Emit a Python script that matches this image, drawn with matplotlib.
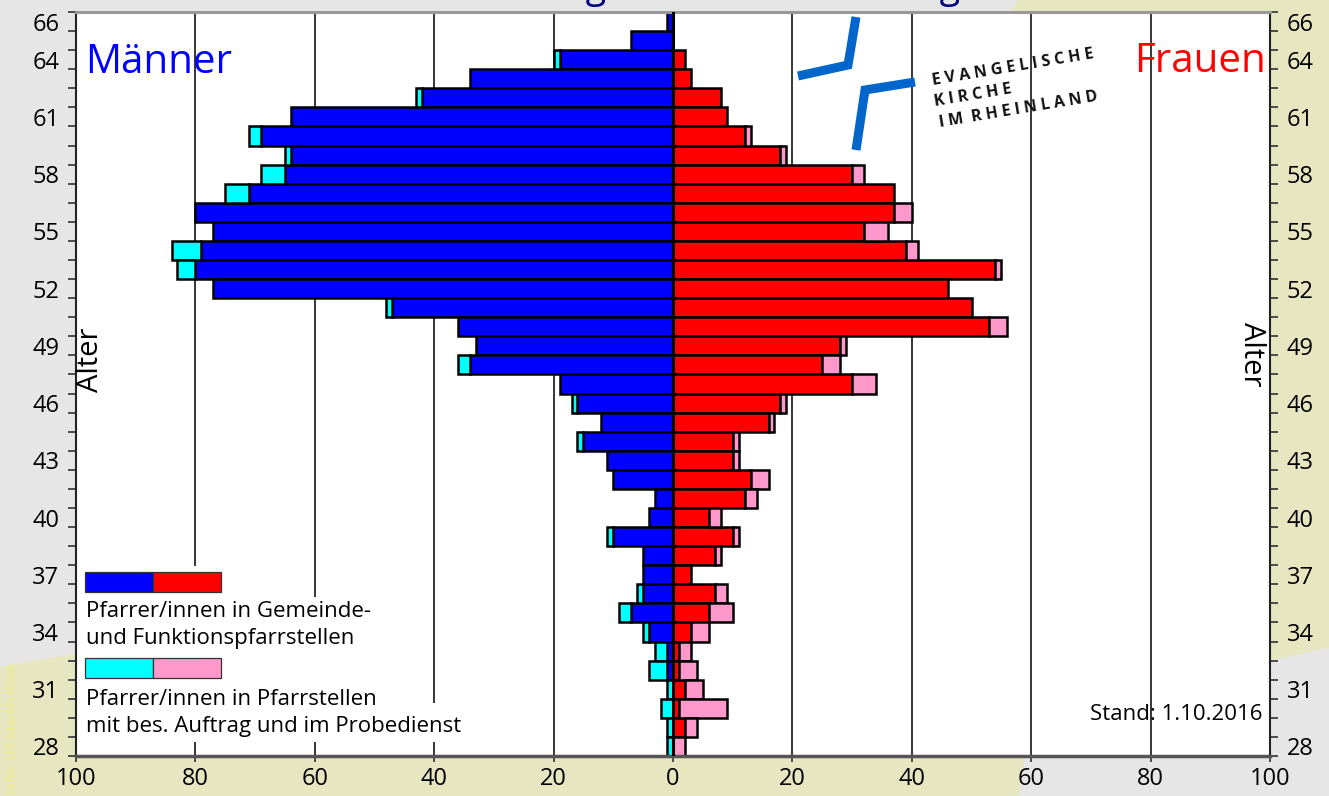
import matplotlib
matplotlib.use('Agg')
import matplotlib.pyplot as plt
import numpy as np
from matplotlib.patches import Rectangle, Polygon
from matplotlib.lines import Line2D

plt.rcParams['font.family'] = ['Open Sans', 'DejaVu Sans']

# ---------------- data (ages 66 down to 28) ----------------
ages = [66, 65, 64, 63, 62, 61, 60, 59, 58, 57, 56, 55, 54, 53, 52, 51, 50, 49, 48, 47,
        46, 45, 44, 43, 42, 41, 40, 39, 38, 37, 36, 35, 34, 33, 32, 31, 30, 29, 28]
men_main = [1, 7, 19, 34, 42, 64, 69, 64, 65, 71, 80, 77, 79, 80, 77, 47, 36, 33, 34, 19,
            16, 12, 15, 11, 10, 3, 4, 10, 5, 5, 5, 7, 4, 1, 1, 0, 0, 0, 0]
men_extra = [0, 0, 1, 0, 1, 0, 2, 1, 4, 4, 0, 0, 5, 3, 0, 1, 0, 0, 2, 0,
             1, 0, 1, 0, 0, 0, 0, 1, 0, 0, 1, 2, 1, 2, 3, 1, 2, 1, 1]
women_main = [0, 0, 2, 3, 8, 9, 12, 18, 30, 37, 37, 32, 39, 54, 46, 50, 53, 28, 25, 30,
              18, 16, 10, 10, 13, 12, 6, 10, 7, 3, 7, 6, 3, 1, 1, 2, 1, 2, 0]
women_extra = [0, 0, 0, 0, 0, 0, 1, 1, 2, 0, 3, 4, 2, 1, 0, 0, 3, 1, 3, 4,
               1, 1, 1, 1, 3, 2, 2, 1, 1, 0, 2, 4, 3, 2, 3, 3, 8, 2, 2]
x_ticks = [-100, -80, -60, -40, -20, 0, 20, 40, 60, 80, 100]
x_tick_labels = [str(abs(v)) for v in x_ticks]
y_label_ages = [28, 31, 34, 37, 40, 43, 46, 49, 52, 55, 58, 61, 64, 66]

legend_text_1 = ["Pfarrer/innen in Gemeinde-", "und Funktionspfarrstellen"]
legend_text_2 = ["Pfarrer/innen in Pfarrstellen", "mit bes. Auftrag und im Probedienst"]

BLUE, RED, CYAN, PINK = '#0000ff', '#ff0000', '#00ffff', '#ff99cc'

W, H = 1329, 796
fig = plt.figure(figsize=(W / 100, H / 100), dpi=100, facecolor='#e6e6e6')


def fx(px):
    return px / W


def fy(py):
    return 1 - py / H


def pts(seq):
    return [(fx(a), fy(b)) for a, b in seq]


# decorative background
khaki = '#e6e6c0'
fig.add_artist(Polygon(pts([(1018, 0), (1329, 0), (1329, 648), (1272, 660), (1150, 400), (1010, 12)]),
                       closed=True, transform=fig.transFigure, facecolor=khaki,
                       edgecolor='none', zorder=-2))
fig.add_artist(Polygon(pts([(0, 667), (77, 653), (400, 600), (1030, 740), (1025, 757),
                            (1019, 796), (0, 796)]),
                       closed=True, transform=fig.transFigure, facecolor=khaki,
                       edgecolor='none', zorder=-2))

ax = fig.add_axes([fx(76), fy(756), (1270 - 76) / W, (756 - 12) / H])
ax.set_facecolor('white')

a = np.array(ages)
mm = np.array(men_main)
me = np.array(men_extra)
wm = np.array(women_main)
we = np.array(women_extra)

kw = dict(height=1.0, edgecolor='black', linewidth=1.8, zorder=2)
m = mm > 0
ax.barh(a[m], -mm[m], color=BLUE, **kw)
m = me > 0
ax.barh(a[m], -me[m], left=-mm[m], color=CYAN, **kw)
m = wm > 0
ax.barh(a[m], wm[m], color=RED, **kw)
m = we > 0
ax.barh(a[m], we[m], left=wm[m], color=PINK, **kw)

for v in [-80, -60, -40, -20, 20, 40, 60, 80]:
    ax.axvline(v, color='black', lw=1.1, zorder=0.5)
ax.axvline(0, color='black', lw=2.2, zorder=3)

ax.set_xlim(-100, 100)
ax.set_ylim(27.5, 66.5)
ax.set_xticks(x_ticks)
ax.set_xticklabels(x_tick_labels)
ax.set_yticks(y_label_ages)
ax.set_yticklabels([str(v) for v in y_label_ages])
ax.set_yticks(np.arange(27.5, 67.0, 1.0), minor=True)
ax.tick_params(axis='x', which='major', direction='out', length=4, width=1.2,
               pad=4, labelsize=17, color='#333333')
ax.tick_params(axis='y', which='major', length=0, pad=12, labelsize=17,
               left=True, right=True, labelleft=True, labelright=True)
ax.tick_params(axis='y', which='minor', direction='out', length=6, width=1.2,
               left=True, right=True, color='#333333')

ax.spines['top'].set_color('#999999')
ax.spines['top'].set_linewidth(2.2)
ax.spines['bottom'].set_color('#555555')
ax.spines['bottom'].set_linewidth(2.5)
for s in ['left', 'right']:
    ax.spines[s].set_color('#222222')
    ax.spines[s].set_linewidth(1.5)

# legend white background areas
for (x0, y0, x1, y1) in [(76, 566, 228, 742), (76, 597, 382, 742), (76, 703, 468, 742)]:
    ax.add_patch(Rectangle((fx(x0), fy(y1)), fx(x1) - fx(x0), fy(y0) - fy(y1),
                           transform=fig.transFigure, facecolor='white',
                           edgecolor='none', zorder=1))
# legend colour boxes
for (y0, c1, c2) in [(572, BLUE, RED), (658, CYAN, PINK)]:
    for (x0, c) in [(85, c1), (153, c2)]:
        ax.add_patch(Rectangle((fx(x0), fy(y0 + 20)), fx(68), 20 / H,
                               transform=fig.transFigure, facecolor=c,
                               edgecolor='#333333', lw=0.9, zorder=2))
for txt, yb in zip(legend_text_1 + legend_text_2, [617, 644, 705, 732]):
    fig.text(fx(86), fy(yb), txt, ha='left', va='baseline', fontsize=16, color='black')

# texts
fig.text(fx(85), fy(73), 'Männer', ha='left', va='baseline', fontsize=29, color=BLUE)
fig.text(fx(1266), fy(72), 'Frauen', ha='right', va='baseline', fontsize=29, color=RED)
fig.text(fx(91), fy(360), 'Alter', rotation=90, ha='center', va='center', fontsize=21)
fig.text(fx(1251), fy(354), 'Alter', rotation=270, ha='center', va='center', fontsize=21)
fig.text(fx(1262), fy(720), 'Stand: 1.10.2016', ha='right', va='baseline', fontsize=16)
fig.text(fx(330), fy(-2), 'Altersverteilung nach Dienststellung', ha='left', va='baseline',
         fontsize=27, color='#000080')
fig.text(fx(13), fy(662), 'Grafik: Ulf-Martin Rook', rotation=90, ha='center', va='top',
         fontsize=9.5, color='#f0ec88')

# logo
fig.add_artist(Line2D([fx(856), fx(848), fx(798)], [fy(17), fy(65), fy(76)],
                      transform=fig.transFigure, lw=6.5, color='#0066cc',
                      solid_joinstyle='miter', solid_capstyle='butt', zorder=4))
fig.add_artist(Line2D([fx(915), fx(865), fx(856)], [fy(82), fy(90), fy(150)],
                      transform=fig.transFigure, lw=6.5, color='#0066cc',
                      solid_joinstyle='miter', solid_capstyle='butt', zorder=4))
for txt, x0, y0 in [('E V A N G E L I S C H E', 933, 85), ('K I R C H E', 935, 106),
                    ('I M  R H E I N L A N D', 940, 127)]:
    fig.text(fx(x0), fy(y0), txt, rotation=9.5, rotation_mode='anchor', ha='left',
             va='baseline', fontsize=11.5, fontweight='bold', color='#111111')

fig.savefig('out.png', dpi=100, facecolor=fig.get_facecolor())
